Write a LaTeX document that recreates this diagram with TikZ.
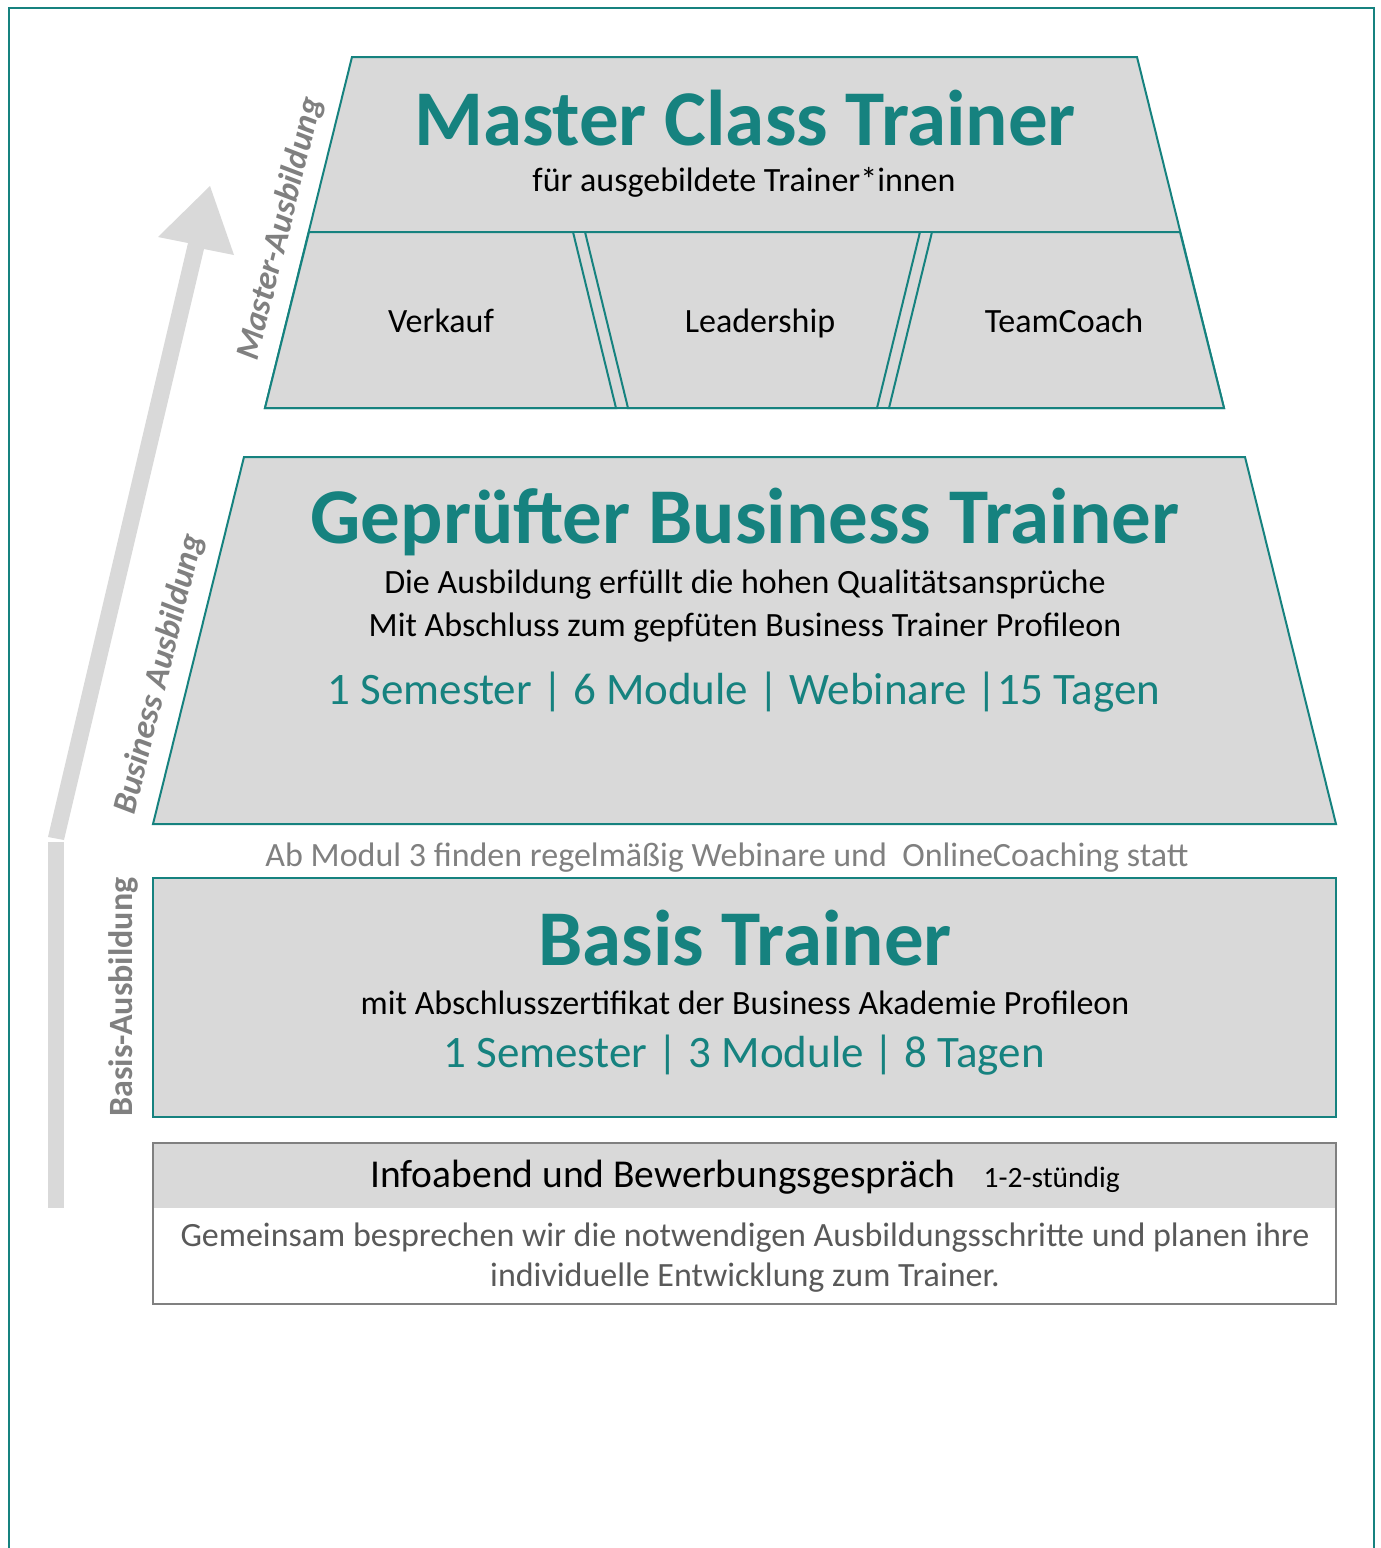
\documentclass[tikz,border=0pt]{standalone}
\usepackage{fontspec}
\setmainfont{Carlito}
\definecolor{teal1}{RGB}{22,130,127}
\definecolor{lgray}{RGB}{217,217,217}
\definecolor{mgray}{RGB}{128,128,128}
\definecolor{dgray}{RGB}{89,89,89}
\begin{document}
\begin{tikzpicture}[x=1pt,y=-1pt,
  tshape/.style={fill=lgray,draw=teal1,line width=2pt,line join=miter},
  txt/.style={inner sep=0pt,anchor=base},
  title/.style={txt,text=teal1,font=\fontsize{79}{88}\selectfont\bfseries},
  body/.style={txt,text=black,font=\fontsize{34}{40}\selectfont},
  facts/.style={txt,text=teal1,font=\fontsize{45}{52}\selectfont},
  sidelabel/.style={inner sep=0pt,text=mgray,font=\fontsize{34}{38}\selectfont\bfseries}]
\useasboundingbox (0,0) rectangle (1381,1548);
% frame
\draw[teal1,line width=2pt] (9,1560) -- (9,8) -- (1374,8) -- (1374,1560);
% arrow
\fill[lgray] (48,842) rectangle (64,1208);
\fill[lgray] (48,837) -- (64,840) -- (204,249) -- (234,255) -- (210,186) -- (158,237) -- (188,243) -- cycle;
% master
\draw[tshape] (352,57) -- (1137,57) -- (1224,408) -- (265,408) -- cycle;
\draw[teal1,line width=2pt] (309,232) -- (1180,232);
\draw[tshape] (309,232) -- (573,232) -- (616,408) -- (265,408) -- cycle;
\draw[tshape] (585,232) -- (920,232) -- (877,408) -- (628,408) -- cycle;
\draw[tshape] (932,232) -- (1180,232) -- (1224,408) -- (889,408) -- cycle;
\node[title] (mct) at (745,145) {Master Class Trainer};
\node[body] (mctsub) at (744,191) {für ausgebildete Trainer*innen};
\node[body] (verk) at (441,332) {Verkauf};
\node[body] (lead) at (760,332) {Leadership};
\node[body] (team) at (1064,332) {TeamCoach};
\node[sidelabel,rotate=76.1,font=\fontsize{34}{38}\selectfont\bfseries\itshape] (mlab) at (281,229) {Master-Ausbildung};
% business
\draw[tshape] (244,457) -- (1245,457) -- (1336,824) -- (153,824) -- cycle;
\node[title] (gbt) at (745,543) {Geprüfter Business Trainer};
\node[body] (gbt1) at (745,593) {Die Ausbildung erfüllt die hohen Qualitätsansprüche};
\node[body] (gbt2) at (745,636) {Mit Abschluss zum gepfüten Business Trainer Profileon};
\node[facts] (gbt3) at (744,704) {1 Semester | 6 Module | Webinare |15 Tagen};
\node[sidelabel,rotate=76.1,font=\fontsize{34}{38}\selectfont\bfseries\itshape] (blab) at (160,674) {Business Ausbildung};
\node[txt,text=mgray,font=\fontsize{34}{38}\selectfont] (abm) at (727,866) {Ab Modul 3 finden regelmäßig Webinare und\ \ OnlineCoaching statt};
% basis
\draw[tshape] (153,878) rectangle (1336,1117);
\node[title] (bt) at (745,965) {Basis Trainer};
\node[body] (bt1) at (745,1014) {mit Abschlusszertifikat der Business Akademie Profileon};
\node[facts] (bt2) at (744,1067) {1 Semester | 3 Module | 8 Tagen};
\node[sidelabel,rotate=90] (slab) at (123,997) {Basis-Ausbildung};
% info
\fill[lgray] (153,1143) rectangle (1336,1208);
\draw[mgray,line width=2pt] (153,1143) rectangle (1336,1304);
\node[txt,font=\fontsize{39.5}{44}\selectfont] (info) at (745,1187) {Infoabend und Bewerbungsgespräch\hspace{28pt}{\fontsize{29.5}{34}\selectfont 1-2-stündig}};
\node[txt,text=dgray,font=\fontsize{34}{40}\selectfont] (inf1) at (745,1246) {Gemeinsam besprechen wir die notwendigen Ausbildungsschritte und planen ihre};
\node[txt,text=dgray,font=\fontsize{34}{40}\selectfont] (inf2) at (745,1286) {individuelle Entwicklung zum Trainer.};
\end{tikzpicture}
\end{document}
